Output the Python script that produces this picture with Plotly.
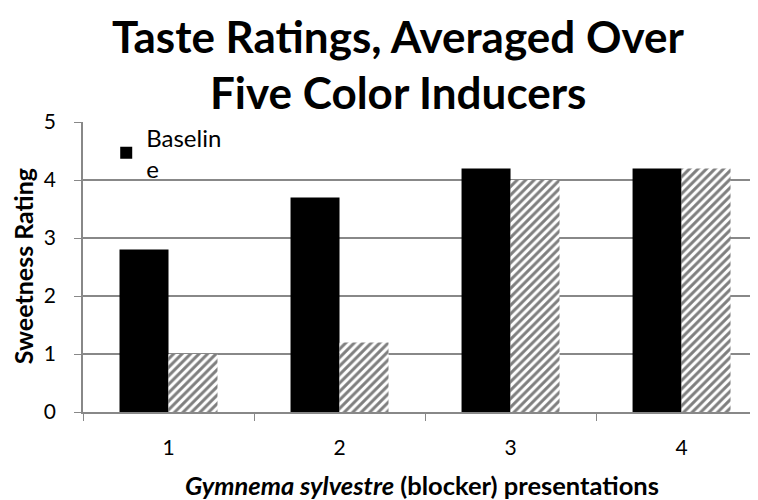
import plotly.graph_objects as go

categories = ["1", "2", "3", "4"]
baseline = [2.8, 3.7, 4.2, 4.2]
blocker = [1.0, 1.2, 4.0, 4.2]
y_ticks = [0, 1, 2, 3, 4, 5]

FONT = "Lato, 'Open Sans', sans-serif"

fig = go.Figure()
fig.add_trace(go.Bar(
    x=categories, y=baseline, name="Baselin<br>e",
    marker=dict(color="black", line=dict(width=0)),
    showlegend=True,
))
fig.add_trace(go.Bar(
    x=categories, y=blocker, name="Gymnema sylvestre",
    marker=dict(color="white", line=dict(width=0),
                pattern=dict(shape="/", fgcolor="black", bgcolor="white",
                             size=6, solidity=0.5)),
    showlegend=False,
))

# page body has an 8px margin, so the figure is offset by (8, 8) on screen
fig.update_layout(
    width=758, height=500,
    margin=dict(l=75, r=8, t=114, b=96, autoexpand=False),
    paper_bgcolor="white", plot_bgcolor="white",
    barmode="group", bargap=0.427, bargroupgap=0,
    font=dict(family=FONT, color="black", size=21),
    legend=dict(x=0.0344, y=1.024, xanchor="left", yanchor="top",
                bgcolor="rgba(0,0,0,0)", font=dict(size=24),
                itemsizing="constant"),
    xaxis=dict(
        type="category", range=[-0.5, 3.447], automargin=False,
        showline=True, linecolor="#888888", linewidth=1.5,
        ticks="outside", tickson="boundaries", ticklen=7, tickcolor="#888888",
        tickfont=dict(size=21), ticklabelstandoff=16,
        showgrid=False,
    ),
    yaxis=dict(
        range=[0, 5], tickvals=y_ticks, automargin=False,
        showline=True, linecolor="#888888", linewidth=1.5,
        ticks="outside", ticklen=7, tickcolor="#888888",
        showgrid=True, gridcolor="#888888", gridwidth=1.5,
        tickfont=dict(size=21), ticklabelstandoff=14,
        zeroline=False,
    ),
    annotations=[
        dict(text="<b>Taste Ratings, Averaged Over</b>", x=0.467, y=1.295,
             xref="paper", yref="paper", xanchor="center", yanchor="middle",
             showarrow=False, font=dict(size=44, family=FONT)),
        dict(text="<b>Five Color Inducers</b>", x=0.467, y=1.105,
             xref="paper", yref="paper", xanchor="center", yanchor="middle",
             showarrow=False, font=dict(size=44, family=FONT)),
        dict(text="<b>Sweetness Rating</b>", x=-0.089, y=0.502, textangle=-90,
             xref="paper", yref="paper", xanchor="center", yanchor="middle",
             showarrow=False, font=dict(size=25, family=FONT)),
        dict(text="<b><i>Gymnema sylvestre</i> (blocker) presentations</b>",
             x=0.502, y=-0.252,
             xref="paper", yref="paper", xanchor="center", yanchor="middle",
             showarrow=False, font=dict(size=25.5, family=FONT)),
    ],
)

fig.write_html("out.html")
